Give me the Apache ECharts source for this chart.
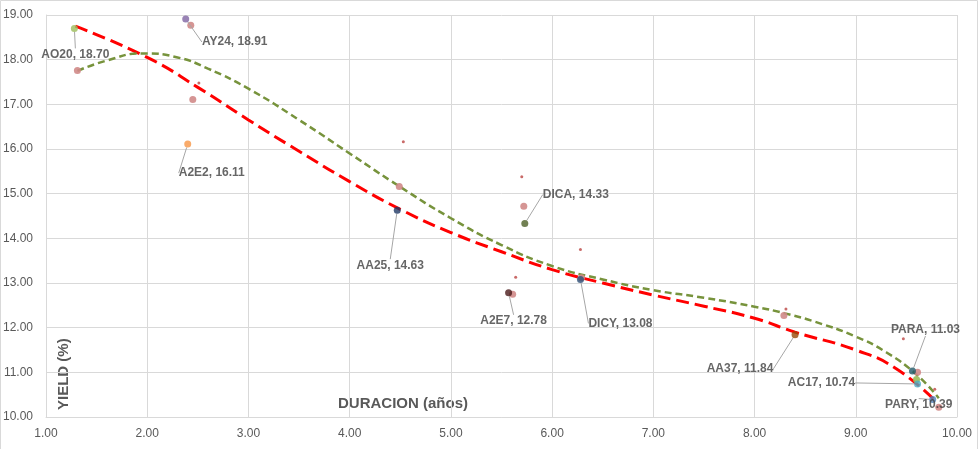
<!DOCTYPE html>
<html><head><meta charset="utf-8">
<script src="https://cdn.jsdelivr.net/npm/echarts@6/dist/echarts.min.js"></script>
<style>html,body{margin:0;padding:0;background:#fff}#c{width:980px;height:449px}</style>
</head><body><div id="c"></div>
<script>
// Labeled bonds
const labeledNames = ['AO20','AY24','A2E2','AA25','DICA','A2E7','DICY','AA37','PARA','AC17','PARY'];
const labeledDur   = [1.28, 2.38, 2.40, 4.47, 5.73, 5.57, 6.28, 8.40, 9.56, 9.61, 9.76];
const labeledYield = [18.70,18.91,16.11,14.63,14.33,12.78,13.08,11.84,11.03,10.74,10.39];
// Unlabeled points (larger)
const otherDur   = [1.31, 2.43, 2.45, 4.49, 5.72, 6.29, 5.61, 8.29, 9.61, 9.82, 9.60];
const otherYield = [17.76,18.77,17.11,15.16,14.72,13.12,12.75,12.27,11.00,10.22,10.84];
// Small dots
const dotDur   = [2.51, 4.53, 5.70, 6.28, 5.64, 9.47, 9.78, 8.31];
const dotYield = [17.48,16.16,15.38,13.75,13.13,11.75,10.62,12.42];
// Trend lines
const redTrendX = [1.29,2.0,2.5,3.0,3.5,4.0,4.5,5.0,5.5,6.0,6.5,7.0,7.5,8.0,8.4,9.0,9.4,9.8];
const redTrendY = [18.75,18.05,17.38,16.65,15.95,15.27,14.65,14.13,13.70,13.30,13.00,12.73,12.48,12.21,11.90,11.50,11.08,10.33];
const greenTrendX = [1.31,1.6,1.95,2.3,2.6,3.0,3.5,4.0,4.5,5.0,5.5,6.0,6.5,7.0,7.5,8.0,8.3,8.6,9.0,9.3,9.6,9.82];
const greenTrendY = [17.75,17.98,18.14,18.05,17.80,17.35,16.65,15.90,15.15,14.45,13.85,13.38,13.08,12.84,12.67,12.47,12.32,12.13,11.80,11.45,10.95,10.42];
// x / y tick settings
const xMin = 1, xMax = 10, yMin = 10, yMax = 19;

// styles
const labeledColors = ['#9bbb59','#8064a2','#f79646','#1f3864','#4f6228','#4a1a1a','#2c4d75','#984807','#215968','#4bacc6','#4f81bd'];
const otherColors = ['#d08a88','#d08a88','#d08a88','#d08a88','#d08a88','#d08a88','#d08a88','#d08a88','#d08a88','#d08a88','#9bbb59'];
const labelOffsets = [[1,26],[49,23],[24,29],[-7,55],[51,-29],[5,28],[40,44],[-55,34],[13,-41],[-96,-1],[-14,5]];

const chart = echarts.init(document.getElementById('c'));
const txt = '#595959';
const lbl = '#404040';
chart.setOption({
  animation: false,
  grid: {left: 43, right: 23, top: 15, bottom: 32},
  xAxis: {
    type: 'value', min: xMin, max: xMax, interval: 1,
    axisLine: {show: true, lineStyle: {color: '#d9d9d9'}},
    axisTick: {show: false},
    splitLine: {lineStyle: {color: '#d9d9d9'}},
    axisLabel: {color: txt, fontSize: 12, fontFamily: 'Liberation Sans', margin: 11, formatter: v => v.toFixed(2)}
  },
  yAxis: {
    type: 'value', min: yMin, max: yMax, interval: 1,
    axisLine: {show: true, lineStyle: {color: '#d9d9d9'}},
    axisTick: {show: false},
    splitLine: {lineStyle: {color: '#d9d9d9'}},
    axisLabel: {color: txt, fontSize: 12, fontFamily: 'Liberation Sans', margin: 13, formatter: v => v.toFixed(2)}
  },
  graphic: [
    {type: 'rect', shape: {x: 0.5, y: 0.5, width: 977, height: 460}, style: {fill: 'none', stroke: '#d9d9d9', lineWidth: 1}, silent: true, z: -10},
    {type: 'text', left: 338, top: 396, style: {text: 'DURACION (años)', fill: txt, font: 'bold 15px "Liberation Sans"'}},
    {type: 'text', x: 56, y: 410, rotation: Math.PI / 2, style: {text: 'YIELD (%)', fill: txt, font: 'bold 15px "Liberation Sans"', align: 'left', verticalAlign: 'top'}}
  ],
  series: [
    {type: 'line', smooth: true, symbol: 'none', z: 2,
     data: redTrendX.map((x, i) => [x, redTrendY[i]]),
     lineStyle: {color: '#ff0000', width: 3, type: [13, 6]}},
    {type: 'line', smooth: true, symbol: 'none', z: 2,
     data: greenTrendX.map((x, i) => [x, greenTrendY[i]]),
     lineStyle: {color: '#77933c', width: 2.5, type: [7, 4]}},
    {type: 'scatter', z: 3, symbolSize: 3,
     data: dotDur.map((x, i) => [x, dotYield[i]]),
     itemStyle: {color: '#c0504d', opacity: 0.85}},
    {type: 'scatter', z: 3, symbolSize: 7,
     data: otherDur.map((x, i) => ({value: [x, otherYield[i]], itemStyle: {color: otherColors[i]}})),
     itemStyle: {opacity: 0.9}},
    {type: 'scatter', z: 4, symbolSize: 7,
     data: labeledDur.map((x, i) => ({value: [x, labeledYield[i]], name: labeledNames[i], itemStyle: {color: labeledColors[i]}})),
     label: {show: true, position: 'inside', align: 'center', verticalAlign: 'middle',
       color: lbl, fontWeight: 'bold', fontSize: 12, fontFamily: 'Liberation Sans',
       formatter: p => p.name + ', ' + p.value[1].toFixed(2)},
     labelLine: {show: true, lineStyle: {color: '#a6a6a6', width: 1}},
     labelLayout: p => ({dx: labelOffsets[p.dataIndex][0], dy: labelOffsets[p.dataIndex][1]})}
  ]
});
</script></body></html>
